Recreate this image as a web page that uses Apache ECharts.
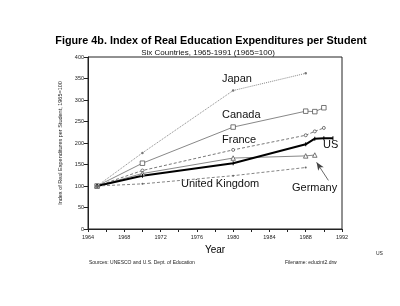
<!DOCTYPE html>
<html>
<head>
<meta charset="utf-8">
<script src="https://cdn.jsdelivr.net/npm/echarts@6/dist/echarts.min.js"></script>
<style>
  html, body { margin: 0; padding: 0; background: #fff; }
  #main { width: 400px; height: 306px; }
</style>
</head>
<body>
<div id="main"></div>
<script>
// values (1965 = 100)
var japanYears = [1965, 1970, 1980, 1988];
var japanVals = [100, 177, 322, 362];
var canadaYears = [1965, 1970, 1980, 1988, 1989, 1990];
var canadaVals = [100, 153, 237, 274, 273, 282];
var franceYears = [1965, 1970, 1980, 1988, 1989, 1990];
var franceVals = [100, 136, 184, 218, 227, 235];
var germanyYears = [1965, 1970, 1980, 1988, 1989];
var germanyVals = [100, 129, 165, 170, 172];
var usYears = [1965, 1970, 1980, 1988, 1989, 1990, 1991];
var usVals = [100, 124, 153, 197, 210, 211, 211];
var ukYears = [1965, 1970, 1980, 1988];
var ukVals = [100, 105, 124, 143];

function pairs(xs, ys) {
    return xs.map(function (x, i) { return [x, ys[i]]; });
}

var font = 'Liberation Sans, Arial, sans-serif';
var myChart = echarts.init(document.getElementById('main'), null, { renderer: 'canvas' });

var option = {
    backgroundColor: '#fff',
    animation: false,
    title: [{
        text: 'Figure 4b. Index of Real Education Expenditures per Student',
        left: 206, top: 31, textAlign: 'center',
        textStyle: { fontFamily: font, fontSize: 10.8, fontWeight: 'bold', color: '#000' }
    }, {
        text: 'Six Countries, 1965-1991 (1965=100)',
        left: 203, top: 44, textAlign: 'center',
        textStyle: { fontFamily: font, fontSize: 8, fontWeight: 'normal', color: '#111' }
    }],
    grid: {
        left: 88, right: 58, top: 57, bottom: 77,
        show: true, borderColor: '#222', borderWidth: 1
    },
    xAxis: {
        type: 'value', min: 1964, max: 1992, interval: 4,
        name: 'Year', nameLocation: 'middle', nameGap: 12,
        nameTextStyle: { fontFamily: font, fontSize: 10, color: '#000' },
        axisLine: { lineStyle: { color: '#222', width: 1 } },
        axisTick: { show: true, length: 3, lineStyle: { color: '#222' } },
        minorTick: { show: true, splitNumber: 2, length: 3, lineStyle: { color: '#222' } },
        axisLabel: {
            fontFamily: font, fontSize: 5.5, color: '#222', margin: 5,
            formatter: function (v) { return String(v); }
        },
        splitLine: { show: false }
    },
    yAxis: {
        type: 'value', min: 0, max: 400, interval: 50,
        name: 'Index of Real Expenditures per Student, 1965=100',
        nameLocation: 'middle', nameGap: 20, nameRotate: 90,
        nameTextStyle: { fontFamily: font, fontSize: 5.5, color: '#222' },
        axisLine: { show: true, lineStyle: { color: '#222', width: 1 } },
        axisTick: { show: true, length: 4, lineStyle: { color: '#222' } },
        axisLabel: {
            fontFamily: font, fontSize: 5.5, color: '#222', margin: 4,
            formatter: function (v) { return String(v); }
        },
        splitLine: { show: false }
    },
    series: [{
        name: 'Japan', type: 'line', data: pairs(japanYears, japanVals),
        symbol: 'circle', symbolSize: 2.5,
        itemStyle: { color: '#777' },
        lineStyle: { color: '#888', width: 1, type: 'dotted' }
    }, {
        name: 'Canada', type: 'line', data: pairs(canadaYears, canadaVals),
        symbol: 'rect', symbolSize: 4.5,
        itemStyle: { color: '#fff', borderColor: '#555', borderWidth: 0.8 },
        lineStyle: { color: '#888', width: 1 }
    }, {
        name: 'France', type: 'line', data: pairs(franceYears, franceVals),
        symbol: 'circle', symbolSize: 3,
        itemStyle: { color: '#fff', borderColor: '#555', borderWidth: 0.8 },
        lineStyle: { color: '#555', width: 0.8, type: [3, 2] }
    }, {
        name: 'Germany', type: 'line', data: pairs(germanyYears, germanyVals),
        symbol: 'triangle', symbolSize: 4.5,
        itemStyle: { color: '#fff', borderColor: '#555', borderWidth: 0.8 },
        lineStyle: { color: '#888', width: 1 },
        markLine: {
            silent: true, symbol: ['none', 'arrow'], symbolSize: [5, 8],
            label: { show: false },
            lineStyle: { color: '#444', width: 0.8, type: 'solid' },
            data: [[{ coord: [1990.5, 113] }, { coord: [1989.2, 155] }]]
        }
    }, {
        name: 'US', type: 'line', data: pairs(usYears, usVals),
        symbol: 'rect', symbolSize: [1, 4],
        itemStyle: { color: '#000' },
        lineStyle: { color: '#000', width: 2 }
    }, {
        name: 'United Kingdom', type: 'line', data: pairs(ukYears, ukVals),
        symbol: 'circle', symbolSize: 2,
        itemStyle: { color: '#666' },
        lineStyle: { color: '#666', width: 0.8, type: [3, 2] }
    }],
    graphic: [
        { type: 'text', left: 222, top: 73, style: { text: 'Japan', font: '11px ' + font, fill: '#111' } },
        { type: 'text', left: 222, top: 109, style: { text: 'Canada', font: '11px ' + font, fill: '#111' } },
        { type: 'text', left: 222, top: 134, style: { text: 'France', font: '11px ' + font, fill: '#111' } },
        { type: 'text', left: 323, top: 139, style: { text: 'US', font: '11px ' + font, fill: '#111' } },
        { type: 'text', left: 181, top: 178, style: { text: 'United Kingdom', font: '11px ' + font, fill: '#111' } },
        { type: 'text', left: 292, top: 182, style: { text: 'Germany', font: '11px ' + font, fill: '#111' } },
        { type: 'text', left: 89, top: 260, style: { text: 'Sources: UNESCO and U.S. Dept. of Education', font: '5px ' + font, fill: '#222' } },
        { type: 'text', left: 285, top: 260, style: { text: 'Filename: educint2.drw', font: '5px ' + font, fill: '#222' } },
        { type: 'text', left: 376, top: 251, style: { text: 'US', font: '5px ' + font, fill: '#222' } }
    ]
};

myChart.setOption(option);
</script>
</body>
</html>
